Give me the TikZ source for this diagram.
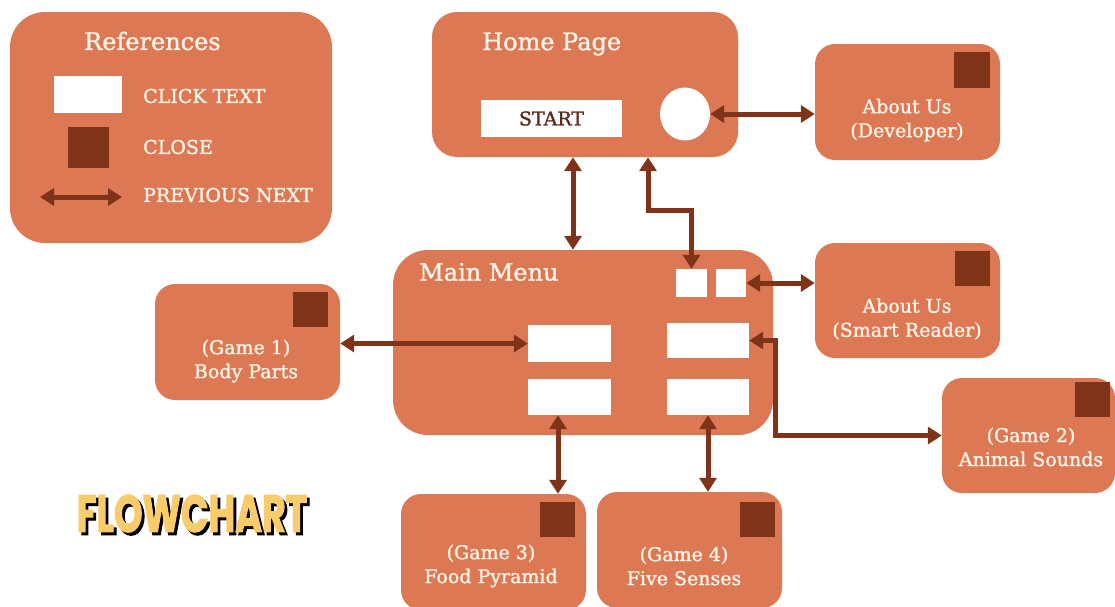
\documentclass[tikz,border=0pt]{standalone}
\usepackage{fontspec}
\setmainfont{DejaVu Serif}[FakeBold=1.3]
\newfontfamily\flowfont{Poppins}[FakeBold=2.5]
\usetikzlibrary{arrows.meta,calc,shapes.geometric}

\definecolor{boxfill}{HTML}{DC7853}
\definecolor{closebrown}{HTML}{7F3319}
\definecolor{labeltext}{HTML}{FFF4E6}
\definecolor{starttext}{HTML}{5B2B1B}
\definecolor{flowyellow}{HTML}{F9CC6B}

\tikzset{
	panel/.style={fill=boxfill, inner sep=0pt, rounded corners=20pt},
	clickbox/.style={fill=white, inner sep=0pt},
	closebox/.style={fill=closebrown, inner sep=0pt, minimum size=35pt},
	title/.style={text=labeltext, anchor=west, inner sep=0pt, font=\fontsize{24}{28}\selectfont},
	legend/.style={text=labeltext, anchor=west, inner sep=0pt, font=\fontsize{19}{22}\selectfont},
	boxlabel/.style={text=labeltext, align=center, inner sep=0pt, font=\fontsize{19}{24}\selectfont},
	link/.style={draw=closebrown, line width=5pt,
		{Triangle[width=17pt,length=14pt]}-{Triangle[width=17pt,length=14pt]}}
}

\begin{document}
\begin{tikzpicture}[x=1pt, y=-1pt]
	\useasboundingbox[fill=white] (0,0) rectangle (1115,606);

	% references
	\node[panel, rounded corners=35pt, minimum width=322pt, minimum height=231pt] (refs) at (171,127.5) {};
	\node[title] (refstitle) at (84,41) {References};
	\node[clickbox, minimum width=68pt, minimum height=37pt] (refclick) at (88,94.5) {};
	\node[closebox, minimum size=41pt] (refclose) at (88.5,147.5) {};
	\coordinate (refleft) at (40,197);
	\coordinate (refright) at (122,197);
	\draw[link] (refleft) -- (refright);
	\node[legend] (clicktext) at (143,96) {CLICK TEXT};
	\node[legend] (closetext) at (143,147) {CLOSE};
	\node[legend] (prevnext) at (143,195) {PREVIOUS NEXT};

	% home page
	\node[panel, rounded corners=25pt, minimum width=306pt, minimum height=145pt] (home) at (585,84.5) {};
	\node[title] (hometitle) at (482,44) {Home Page};
	\node[clickbox, minimum width=141pt, minimum height=37pt, text=starttext,
		font=\fontsize{19}{22}\selectfont] (start) at (551.5,118.5) {START};
	\node[ellipse, fill=white, minimum width=50pt, minimum height=53pt, inner sep=0pt] (info) at (685,114) {};

	% main menu
	\node[panel, rounded corners=35pt, minimum width=380pt, minimum height=185pt] (menu) at (583,342.5) {};
	\node[title] (menutitle) at (419,272) {Main Menu};
	\node[clickbox, minimum width=31pt, minimum height=28pt] (sqa) at (691.5,283) {};
	\node[clickbox, minimum width=30pt, minimum height=28pt] (sqb) at (731,283) {};
	\node[clickbox, minimum width=83pt, minimum height=37pt] (btna) at (569.5,343.5) {};
	\node[clickbox, minimum width=82pt, minimum height=35pt] (btnb) at (708,340.5) {};
	\node[clickbox, minimum width=83pt, minimum height=36pt] (btnc) at (569.5,397) {};
	\node[clickbox, minimum width=82pt, minimum height=36pt] (btnd) at (708,397) {};

	% pages
	\node[panel, minimum width=185pt, minimum height=116pt] (dev) at (907.5,102) {};
	\node[closebox, minimum size=36pt] (devclose) at (972,70) {};
	\node[boxlabel] (devtext) at (907,120) {About Us\\(Developer)};

	\node[panel, minimum width=185pt, minimum height=115pt] (reader) at (907.5,300.5) {};
	\node[closebox] (readerclose) at (972,268.5) {};
	\node[boxlabel] (readertext) at (907,319) {About Us\\(Smart Reader)};

	\node[panel, minimum width=185pt, minimum height=116pt] (gamea) at (247.5,342) {};
	\node[closebox] (gameaclose) at (310,309.5) {};
	\node[boxlabel] (gameatext) at (246,361) {(Game 1)\\Body Parts};

	\node[panel, minimum width=173pt, minimum height=115pt] (gameb) at (1028.5,435.5) {};
	\node[closebox] (gamebclose) at (1092,399.5) {};
	\node[boxlabel] (gamebtext) at (1031,447) {(Game 2)\\Animal Sounds};

	\node[panel, minimum width=185pt, minimum height=116pt] (gamec) at (493.5,552) {};
	\node[closebox] (gamecclose) at (557,519.5) {};
	\node[boxlabel] (gamectext) at (491,566) {(Game 3)\\Food Pyramid};

	\node[panel, minimum width=185pt, minimum height=116pt] (gamed) at (689.5,550) {};
	\node[closebox] (gamedclose) at (757,519.5) {};
	\node[boxlabel] (gamedtext) at (684,566) {(Game 4)\\Five Senses};

	% connectors
	\coordinate (homex) at (573,0);
	\coordinate (bendx) at (648,0);
	\coordinate (gamecx) at (558,0);
	\draw[link] (home.south -| homex) -- (menu.north -| homex);
	\draw[link] (home.south -| bendx) -- ($(home.south -| bendx)+(0,53)$) -| (sqa.north);
	\draw[link] (info.east) -- (info.east -| dev.west);
	\draw[link] (sqb.east) -- (sqb.east -| reader.west);
	\draw[link] (btna.west -| gamea.east) -- (btna.west);
	\draw[link] (btnb.east) -- ++(26,0) |- (gameb.west);
	\draw[link] (btnc.south -| gamecx) -- (gamec.north -| gamecx);
	\draw[link] (btnd.south) -- (btnd.south |- gamed.north);

	% title with shadow
	\node[font=\flowfont\bfseries\fontsize{52}{56}\selectfont, xscale=0.7, transform shape] (flowtitle) at (192,515)
		{\rlap{\hspace{4pt}\raisebox{-3pt}{\color{black}FLOWCHART}}\textcolor{flowyellow}{FLOWCHART}};
\end{tikzpicture}
\end{document}
